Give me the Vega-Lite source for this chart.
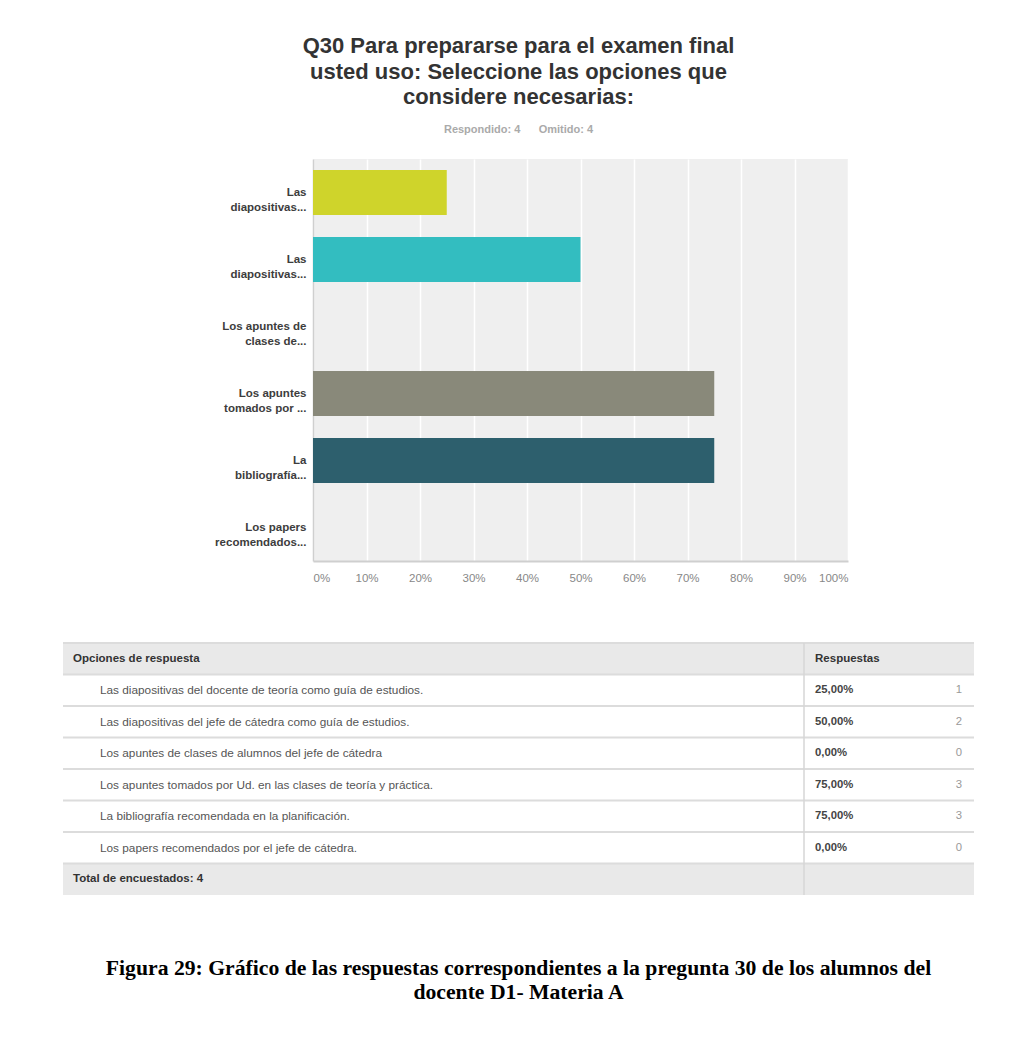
{
  "$schema": "https://vega.github.io/schema/vega-lite/v6.json",
  "padding": {"left": 62, "top": 35, "right": 0, "bottom": 0},
  "background": "white",
  "config": {
    "view": {"stroke": null},
    "locale": {"number": {"decimal": ",", "thousands": ".", "grouping": [3], "currency": ["", " €"]}}
  },
  "title": {
    "text": ["Q30 Para prepararse para el examen final", "usted uso: Seleccione las opciones que", "considere necesarias:"],
    "subtitle": "Respondido: 4\u00a0\u00a0\u00a0\u00a0\u00a0\u00a0Omitido: 4",
    "anchor": "middle",
    "font": "Liberation Sans",
    "fontSize": 22,
    "fontWeight": "bold",
    "color": "#333333",
    "lineHeight": 25.5,
    "subtitleFont": "Liberation Sans",
    "subtitleFontSize": 11,
    "subtitleFontWeight": "bold",
    "subtitleColor": "#aaaaaa",
    "subtitlePadding": 15,
    "offset": 23
  },
  "datasets": {
    "table": [
      {"row": 1, "kind": "header", "text": "Opciones de respuesta", "resp": "Respuestas"},
      {"row": 2, "kind": "option", "text": "Las diapositivas del docente de teoría como guía de estudios.", "label": "Las|diapositivas...", "pct": 0.25, "count": 1},
      {"row": 3, "kind": "option", "text": "Las diapositivas del jefe de cátedra como guía de estudios.", "label": "\u200bLas|diapositivas...", "pct": 0.5, "count": 2},
      {"row": 4, "kind": "option", "text": "Los apuntes de clases de alumnos del jefe de cátedra", "label": "Los apuntes de|clases de...", "pct": 0, "count": 0},
      {"row": 5, "kind": "option", "text": "Los apuntes tomados por Ud. en las clases de teoría y práctica.", "label": "Los apuntes|tomados por ...", "pct": 0.75, "count": 3},
      {"row": 6, "kind": "option", "text": "La bibliografía recomendada en la planificación.", "label": "La|bibliografía...", "pct": 0.75, "count": 3},
      {"row": 7, "kind": "option", "text": "Los papers recomendados por el jefe de cátedra.", "label": "Los papers|recomendados...", "pct": 0, "count": 0},
      {"row": 8, "kind": "footer", "text": "Total de encuestados: 4"}
    ]
  },
  "columns": 1,
  "align": "none",
  "spacing": 58,
  "concat": [
    {
      "width": 535,
      "height": 402,
      "view": {"fill": "#efefef", "stroke": null},
      "data": {"name": "table"},
      "transform": [{"filter": "datum.kind === 'option'"}],
      "mark": {"type": "bar"},
      "encoding": {
        "y": {
          "field": "label",
          "type": "nominal",
          "sort": null,
          "scale": {"paddingInner": 0.33, "paddingOuter": 0.165},
          "axis": {
            "title": null,
            "labelExpr": "split(datum.value, '|')",
            "ticks": false,
            "domainColor": "#cfcfcf",
            "domainWidth": 1.5,
            "labelFont": "Liberation Sans",
            "labelFontSize": 11.5,
            "labelFontWeight": "bold",
            "labelColor": "#3d3d3d",
            "labelLineHeight": 15,
            "labelPadding": 7,
            "labelLimit": 240
          }
        },
        "x": {
          "field": "pct",
          "type": "quantitative",
          "scale": {"domain": [0, 1]},
          "axis": {
            "title": null,
            "values": [0, 0.1, 0.2, 0.3, 0.4, 0.5, 0.6, 0.7, 0.8, 0.9, 1],
            "format": ".0%",
            "grid": true,
            "gridColor": "#ffffff",
            "gridWidth": 1.5,
            "ticks": false,
            "domainColor": "#cfcfcf",
            "domainWidth": 2,
            "labelFont": "Liberation Sans",
            "labelFontSize": 11.5,
            "labelColor": "#888888",
            "labelPadding": 11,
            "labelFlush": true
          }
        },
        "color": {
          "field": "label",
          "type": "nominal",
          "sort": null,
          "legend": null,
          "scale": {"range": ["#cfd42b", "#33bdc0", "#d9d9d9", "#89897a", "#2d5f6d", "#d9d9d9"]}
        }
      }
    },
    {
      "width": 661,
      "height": 252,
      "data": {"name": "table"},
      "title": {
        "text": ["Figura 29: Gráfico de las respuestas correspondientes a la pregunta 30 de los alumnos del", "docente D1- Materia A"],
        "orient": "bottom",
        "anchor": "middle",
        "frame": "bounds",
        "font": "Liberation Serif",
        "fontSize": 21.7,
        "fontWeight": "bold",
        "color": "#000000",
        "lineHeight": 24,
        "offset": 62
      },
      "layer": [
        {
          "transform": [{"filter": "datum.kind !== 'option'"}],
          "mark": {"type": "rect", "color": "#e9e9e9"},
          "encoding": {
            "y": {"field": "row", "type": "ordinal", "axis": null, "scale": {"paddingInner": 0, "paddingOuter": 0}},
            "x": {"datum": 0, "type": "quantitative", "scale": {"domain": [0, 100], "range": [-250, 661], "nice": false, "zero": false}, "axis": null},
            "x2": {"datum": 100}
          }
        },
        {
          "mark": {"type": "rule", "color": "#dcdcdc", "strokeWidth": 2},
          "encoding": {
            "y": {"field": "row", "type": "ordinal", "bandPosition": 0, "axis": null},
            "x": {"datum": 0, "type": "quantitative", "axis": null},
            "x2": {"datum": 100}
          }
        },
        {
          "transform": [{"filter": "datum.kind === 'header'"}],
          "mark": {"type": "rule", "color": "#d6d6d6", "strokeWidth": 1.5},
          "encoding": {
            "x": {"datum": 81.34, "type": "quantitative", "axis": null}
          }
        },
        {
          "transform": [{"filter": "datum.kind !== 'option'"}],
          "mark": {"type": "text", "align": "left", "font": "Liberation Sans", "fontSize": 11.5, "fontWeight": "bold", "color": "#333333"},
          "encoding": {
            "y": {"field": "row", "type": "ordinal", "axis": null},
            "x": {"datum": 1.1, "type": "quantitative", "axis": null},
            "text": {"field": "text"}
          }
        },
        {
          "transform": [{"filter": "datum.kind === 'header'"}],
          "mark": {"type": "text", "align": "left", "font": "Liberation Sans", "fontSize": 11.5, "fontWeight": "bold", "color": "#333333"},
          "encoding": {
            "y": {"field": "row", "type": "ordinal", "axis": null},
            "x": {"datum": 82.55, "type": "quantitative", "axis": null},
            "text": {"field": "resp"}
          }
        },
        {
          "transform": [{"filter": "datum.kind === 'option'"}],
          "mark": {"type": "text", "align": "left", "font": "Liberation Sans", "fontSize": 11.8, "color": "#555555"},
          "encoding": {
            "y": {"field": "row", "type": "ordinal", "axis": null},
            "x": {"datum": 4.06, "type": "quantitative", "axis": null},
            "text": {"field": "text"}
          }
        },
        {
          "transform": [{"filter": "datum.kind === 'option'"}],
          "mark": {"type": "text", "align": "left", "font": "Liberation Sans", "fontSize": 11.3, "fontWeight": "bold", "color": "#444444"},
          "encoding": {
            "y": {"field": "row", "type": "ordinal", "axis": null},
            "x": {"datum": 82.55, "type": "quantitative", "axis": null},
            "text": {"field": "pct", "type": "quantitative", "format": ".2%"}
          }
        },
        {
          "transform": [{"filter": "datum.kind === 'option'"}],
          "mark": {"type": "text", "align": "right", "font": "Liberation Sans", "fontSize": 11.3, "color": "#999999"},
          "encoding": {
            "y": {"field": "row", "type": "ordinal", "axis": null},
            "x": {"datum": 98.7, "type": "quantitative", "axis": null},
            "text": {"field": "count", "type": "quantitative"}
          }
        }
      ]
    }
  ]
}
